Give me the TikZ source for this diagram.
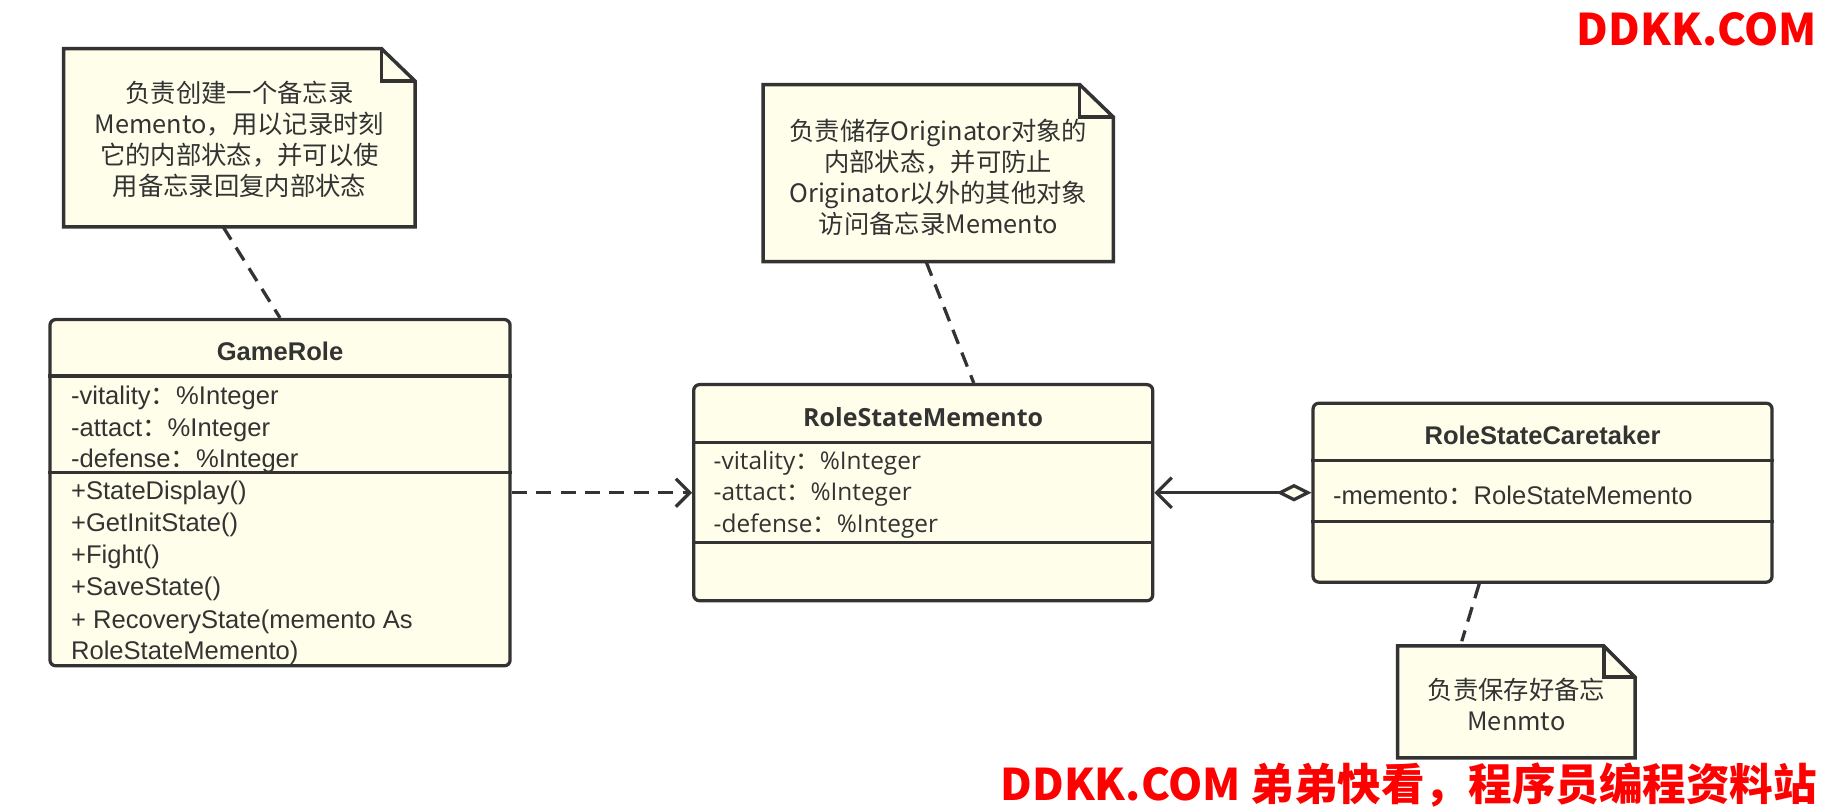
\documentclass[tikz,border=0pt]{standalone}
\usepackage{fontspec}
\setmainfont{Liberation Sans}
\newfontfamily\cjk{Noto Sans CJK SC}
\newfontfamily\osans{Open Sans}
\usetikzlibrary{arrows.meta}
\definecolor{ln}{HTML}{333333}
\definecolor{bg}{HTML}{FEFEEA}
\definecolor{wm}{HTML}{FF0000}
\newcommand{\fc}{{\cjk ：}}
\tikzset{
  classbox/.style={draw=ln, fill=bg, line width=2.8pt, rounded corners=5pt, inner sep=0pt},
  divline/.style={draw=ln, line width=2.8pt},
  notebox/.style={draw=none, inner sep=0pt},
  noteline/.style={draw=ln, line width=3pt, line join=miter},
  dashline/.style={draw=ln, line width=2.8pt, dash pattern=on 13pt off 8pt},
  ctext/.style={inner sep=0pt, anchor=west, text=ln, font=\fontsize{22}{26}\selectfont},
  otext/.style={inner sep=0pt, anchor=west, text=ln, font=\osans\fontsize{21}{25}\selectfont},
  ttl/.style={inner sep=0pt, text=ln, font=\fontsize{22}{26}\selectfont\bfseries},
  ntext/.style={inner sep=0pt, text=ln, align=center, font=\cjk\fontsize{21.8}{26.7}\selectfont},
  wmtext/.style={inner sep=0pt, anchor=east, text=wm, font=\cjk\bfseries\fontsize{37.5}{44}\selectfont},
}
\begin{document}
\begin{tikzpicture}[x=1pt,y=-1pt]
\useasboundingbox[fill=white] (0,0) rectangle (1568,695.35);

% ---------- notes ----------
\node[notebox, minimum width=302pt, minimum height=153pt] (n1) at (206,118.5) {};
\path[noteline, fill=bg] (n1.south west) -- (n1.north west) -- ([xshift=-29pt]n1.north east) -- ([yshift=-28pt]n1.north east) -- (n1.south east) -- cycle;
\draw[noteline] ([xshift=-29pt]n1.north east) |- ([yshift=-28pt]n1.north east);
\node[ntext] (t1) at ([yshift=-1.5pt]n1.center) {负责创建一个备忘录\\Memento，用以记录时刻\\它的内部状态，并可以使\\用备忘录回复内部状态};

\node[notebox, minimum width=301pt, minimum height=152pt] (n2) at (807.5,149) {};
\path[noteline, fill=bg] (n2.south west) -- (n2.north west) -- ([xshift=-29pt]n2.north east) -- ([yshift=-28pt]n2.north east) -- (n2.south east) -- cycle;
\draw[noteline] ([xshift=-29pt]n2.north east) |- ([yshift=-28pt]n2.north east);
\node[ntext] (t2) at ([yshift=-3.5pt]n2.center) {负责储存Originator对象的\\内部状态，并可防止\\Originator以外的其他对象\\访问备忘录Memento};

\node[notebox, minimum width=204pt, minimum height=96pt] (n3) at (1305,604) {};
\path[noteline, fill=bg] (n3.south west) -- (n3.north west) -- ([xshift=-27pt]n3.north east) -- ([yshift=-27pt]n3.north east) -- (n3.south east) -- cycle;
\draw[noteline] ([xshift=-27pt]n3.north east) |- ([yshift=-27pt]n3.north east);
\node[ntext] (t3) at ([yshift=-2.5pt]n3.center) {负责保存好备忘\\Menmto};

% ---------- classes ----------
\node[classbox, minimum width=396pt, minimum height=298pt] (gr) at (241,424) {};
\draw[divline] ([yshift=-50pt]gr.north west) -- ([yshift=-50pt]gr.north east);
\draw[divline] ([yshift=-133pt]gr.north west) -- ([yshift=-133pt]gr.north east);
\node[ttl] (grt) at (241,302) {GameRole};
\node[ctext] (g1) at (61,342) {-vitality\fc\%Integer};
\node[ctext] (g2) at (61,370) {-attact\fc\%Integer};
\node[ctext] (g3) at (61,397) {-defense\fc\%Integer};
\node[ctext] (g4) at (61,424) {+StateDisplay()};
\node[ctext] (g5) at (61,452) {+GetInitState()};
\node[ctext] (g6) at (61,479) {+Fight()};
\node[ctext] (g7) at (61,507) {+SaveState()};
\node[ctext] (g8) at (61,535) {+ RecoveryState(memento As};
\node[ctext] (g9) at (61,562) {RoleStateMemento)};

\node[classbox, minimum width=395pt, minimum height=186pt] (rsm) at (794.5,424) {};
\draw[divline] ([yshift=-51pt]rsm.north west) -- ([yshift=-51pt]rsm.north east);
\draw[divline] ([yshift=-137pt]rsm.north west) -- ([yshift=-137pt]rsm.north east);
\node[ttl, font=\osans\bfseries\fontsize{21.5}{25}\selectfont] (rsmt) at (794.5,359) {RoleStateMemento};
\node[otext] (r1) at (614,399) {-vitality\fc\%Integer};
\node[otext] (r2) at (614,426) {-attact\fc\%Integer};
\node[otext] (r3) at (614,453) {-defense\fc\%Integer};

\node[classbox, minimum width=395pt, minimum height=154pt] (ct) at (1327.5,424) {};
\draw[divline] ([yshift=-51pt]ct.north west) -- ([yshift=-51pt]ct.north east);
\draw[divline] ([yshift=-103pt]ct.north west) -- ([yshift=-103pt]ct.north east);
\node[ttl] (ctt) at (1327.5,375) {RoleStateCaretaker};
\node[ctext] (c1) at (1147,426) {-memento\fc RoleStateMemento};

% ---------- connectors ----------
\draw[dashline] ([xshift=-14pt]n1.south) -- (gr.north);
\draw[dashline] ([xshift=-10.5pt]n2.south) -- ([xshift=43.5pt]rsm.north);
\draw[dashline] ([xshift=-54.5pt]ct.south) -- ([xshift=-47pt,yshift=4pt]n3.north);
\draw[dashline, -{Straight Barb[length=12pt,width=24pt,line width=2.8pt]}] (gr.east) -- (rsm.west);
\draw[draw=ln, line width=2.8pt, {Straight Barb[length=13pt,width=26pt]}-{Diamond[open,length=30pt,width=15pt,fill=bg]}] (rsm.east) -- (ct.west);

% ---------- watermark ----------
\node[wmtext] (w1) at (1564,25) {DDKK.COM};
\node[wmtext] (w2) at (1564,676) {DDKK.COM 弟弟快看，程序员编程资料站};
\end{tikzpicture}
\end{document}
